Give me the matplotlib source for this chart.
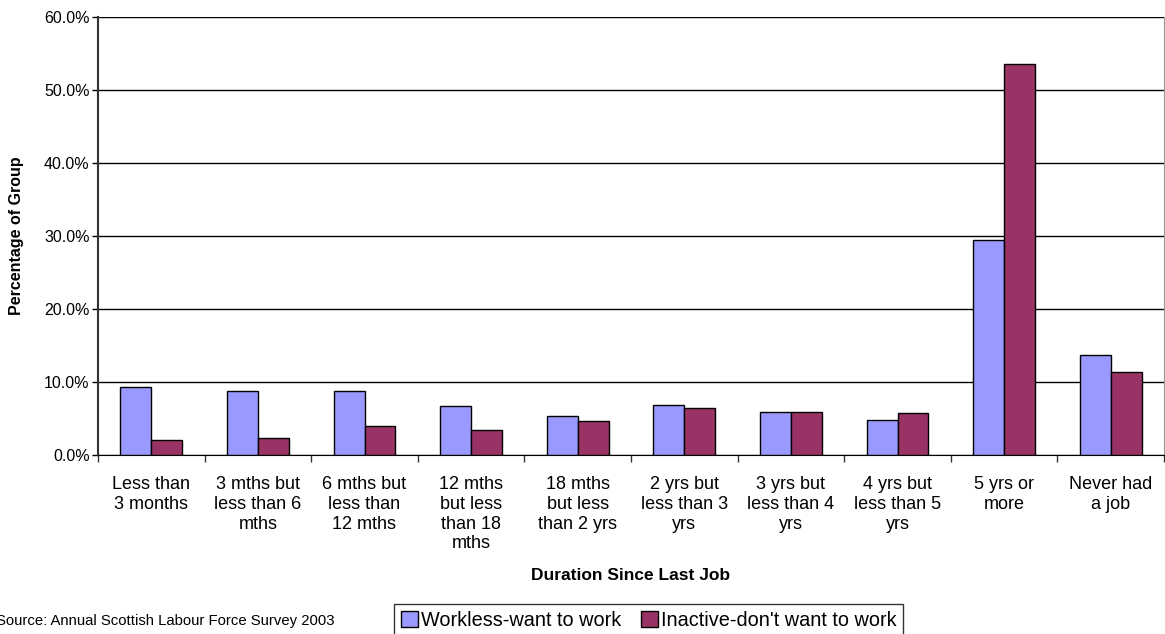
import numpy as np
import matplotlib
matplotlib.use('Agg')
import matplotlib.pyplot as plt
from matplotlib.ticker import FuncFormatter

plt.rcParams['font.family'] = ['Liberation Sans', 'DejaVu Sans']

# data
categories = ['Less than\n3 months', '3 mths but\nless than 6\nmths', '6 mths but\nless than\n12 mths',
              '12 mths\nbut less\nthan 18\nmths', '18 mths\nbut less\nthan 2 yrs', '2 yrs but\nless than 3\nyrs',
              '3 yrs but\nless than 4\nyrs', '4 yrs but\nless than 5\nyrs', '5 yrs or\nmore', 'Never had\na job']
workless = [9.3, 8.7, 8.8, 6.7, 5.4, 6.8, 5.9, 4.8, 29.5, 13.7]
inactive = [2.1, 2.3, 4.0, 3.4, 4.7, 6.5, 5.9, 5.8, 53.6, 11.4]
series_names = ['Workless-want to work', "Inactive-don't want to work"]
yticks = [0, 10, 20, 30, 40, 50, 60]

W, H = 1165, 634
fig = plt.figure(figsize=(W/100, H/100), dpi=100)
ax = fig.add_axes([98/W, 1-455/H, (1164-98)/W, (455-17)/H])

x = np.arange(len(categories))
bw = 0.29
ax.bar(x - bw/2, workless, bw, color='#9999FF', edgecolor='black', linewidth=1.0, label=series_names[0], zorder=3)
ax.bar(x + bw/2, inactive, bw, color='#993366', edgecolor='black', linewidth=1.0, label=series_names[1], zorder=3)

ax.set_xlim(-0.5, len(categories) - 0.5)
ax.set_ylim(0, 60)
ax.set_yticks(yticks)
ax.yaxis.set_major_formatter(FuncFormatter(lambda v, p: '%.1f%%' % v))
ax.yaxis.grid(True, color='black', linewidth=1.0, zorder=0)
ax.tick_params(axis='y', length=4, width=1, labelsize=11.5, pad=2)

# category boundary ticks + centred labels
ax.set_xticks(np.arange(len(categories) + 1) - 0.5)
ax.set_xticklabels([])
ax.tick_params(axis='x', which='major', length=5, width=1, color='#333333')
ax.set_xticks(x, minor=True)
ax.set_xticklabels(categories, minor=True, fontsize=13, linespacing=1.22)
ax.tick_params(axis='x', which='minor', length=0, pad=15)

ax.spines['top'].set_visible(False)
ax.spines['right'].set_color('#999999')
ax.spines['left'].set_color('#333333')
ax.spines['left'].set_linewidth(1.5)
ax.spines['bottom'].set_color('black')

fig.text(17/W, 1-236/H, 'Percentage of Group', rotation=90, ha='center', va='center',
         fontsize=11.5, fontweight='bold')
fig.text(631/W, 1-576/H, 'Duration Since Last Job', ha='center', va='center',
         fontsize=12.5, fontweight='bold')
fig.text(-4/W, 1-621/H, 'Source: Annual Scottish Labour Force Survey 2003', ha='left', va='center',
         fontsize=10.7)

leg = fig.legend(loc='upper left', bbox_to_anchor=(394/W, 1-604/H), ncol=2, fontsize=14.3,
                 frameon=True, fancybox=False, edgecolor='black', handlelength=0.85, handleheight=0.85,
                 handletextpad=0.15, columnspacing=1.0, borderpad=0.35, borderaxespad=0)
leg.get_frame().set_linewidth(1.0)

fig.savefig('out.png', dpi=100)
